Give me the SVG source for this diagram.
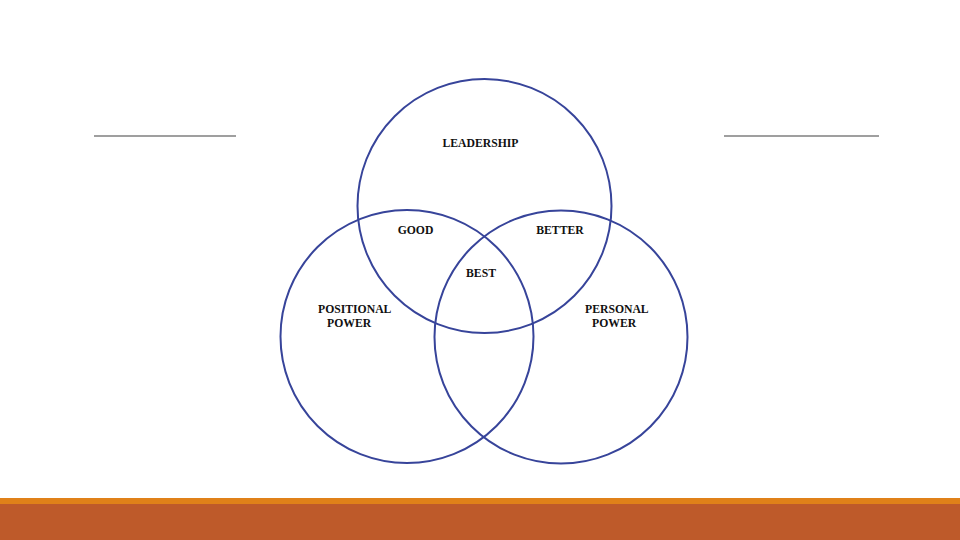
<svg xmlns="http://www.w3.org/2000/svg" width="960" height="540" viewBox="0 0 960 540">
<style>
.c{fill:none;stroke:#37449a;stroke-width:2}
.t{font-family:"Liberation Serif","Times New Roman",serif;font-weight:bold;font-size:11.7px;fill:#111}
.rule{stroke:#7f7f7f;stroke-width:1.5}
</style>
<rect width="960" height="540" fill="#fff"/>
<g id="rules">
<line class="rule" x1="94" y1="136" x2="236" y2="136"/>
<line class="rule" x1="724" y1="136" x2="879" y2="136"/>
</g>
<g id="leadership"><circle class="c" cx="484.5" cy="206" r="127"/>
<text class="t" x="480.5" y="146.8" text-anchor="middle">LEADERSHIP</text></g>
<g id="positional"><circle class="c" cx="407" cy="336.5" r="126.5"/>
<text class="t" x="318" y="312.8">POSITIONAL</text>
<text class="t" x="327" y="326.8">POWER</text></g>
<g id="personal"><circle class="c" cx="561" cy="337" r="126.5"/>
<text class="t" x="585" y="312.8">PERSONAL</text>
<text class="t" x="592" y="326.8">POWER</text></g>
<g id="overlaps">
<text class="t" x="415.5" y="234.2" text-anchor="middle">GOOD</text>
<text class="t" x="560" y="234.2" text-anchor="middle">BETTER</text>
<text class="t" x="481" y="276.8" text-anchor="middle">BEST</text>
</g>
<rect x="0" y="498" width="960" height="6" fill="#e08119"/>
<rect x="0" y="504" width="960" height="36" fill="#be5a2a"/>
</svg>
